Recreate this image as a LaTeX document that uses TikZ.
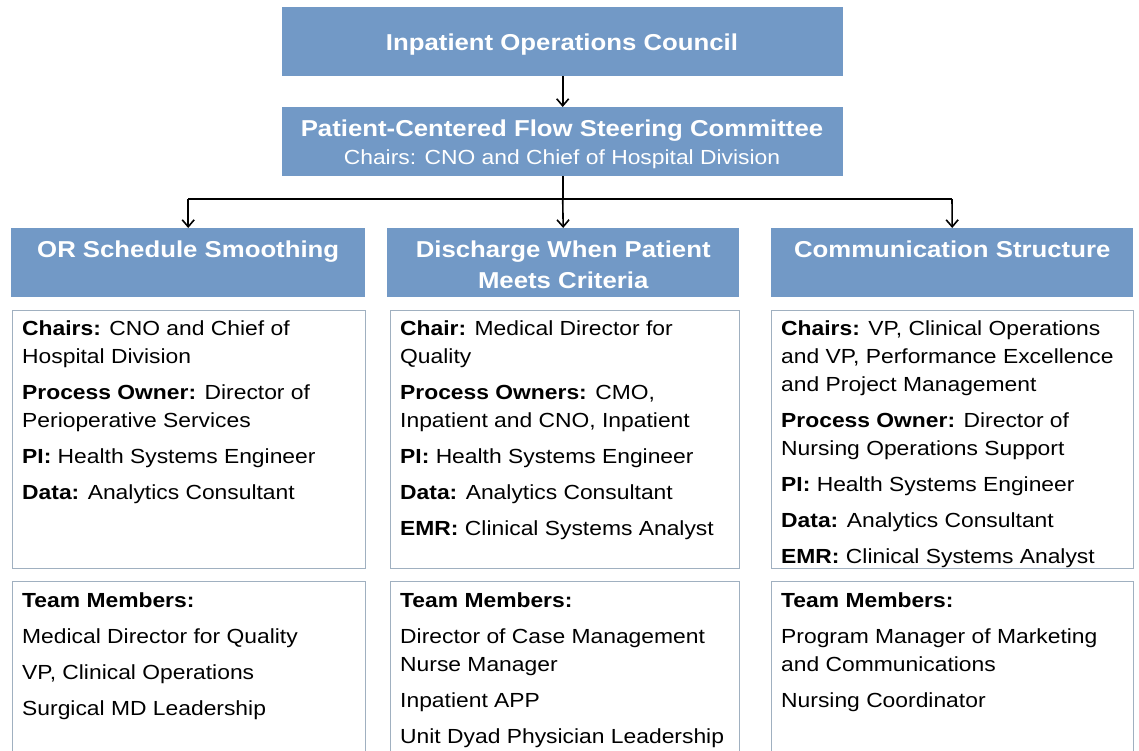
\documentclass[tikz,border=0pt]{standalone}
\usepackage{fontspec}
\setmainfont{Liberation Sans}[FakeStretch=1.12]
\usetikzlibrary{arrows.meta}
\definecolor{boxblue}{RGB}{114,153,198}
\definecolor{boxline}{RGB}{160,176,192}
\tikzset{
  bluebox/.style={fill=boxblue, draw=none, inner sep=0pt, anchor=north west},
  whitebox/.style={fill=white, draw=boxline, line width=1.2pt, inner sep=0pt, anchor=north west},
  hdrtext/.style={text=white, font=\fontsize{23}{31}\selectfont\bfseries, align=center, inner sep=0pt, anchor=north},
  toptext/.style={text=white, font=\fontsize{23}{26}\selectfont\bfseries, inner sep=0pt},
  bodytext/.style={text=black, font=\fontsize{20.4}{28}\selectfont, align=left, inner sep=0pt, anchor=north west},
  arr/.style={line width=1.6pt, -{Straight Barb[length=7pt,width=12pt,line width=1.6pt]}},
  ln/.style={line width=1.6pt}
}
\begin{document}
\begin{tikzpicture}[x=1pt,y=-1pt]
\useasboundingbox[fill=white] (0,0) rectangle (1139,750);
% top boxes
\node[bluebox, minimum width=561pt, minimum height=69pt] (ioc) at (282,7) {};
\node[toptext, anchor=base] (ioct) at (562,50) {Inpatient Operations Council};
\node[bluebox, minimum width=561pt, minimum height=69pt] (pcf) at (282,107) {};
\node[toptext, anchor=base] (pcft) at (562,136) {Patient-Centered Flow Steering Committee};
\node[text=white, font=\fontsize{20.4}{22}\selectfont, inner sep=0pt, anchor=base] (pcfc) at (562,164) {Chairs: CNO and Chief of Hospital Division};
% header boxes
\node[bluebox, minimum width=354pt, minimum height=69pt] (h1) at (11,228) {};
\node[bluebox, minimum width=352pt, minimum height=69pt] (h2) at (387,228) {};
\node[bluebox, minimum width=362pt, minimum height=69pt] (h3) at (771,228) {};
\node[hdrtext] (h1t) at ([yshift=-13pt]h1.north) {OR Schedule Smoothing};
\node[hdrtext] (h2t) at ([yshift=-13pt]h2.north) {Discharge When Patient\\Meets Criteria};
\node[hdrtext] (h3t) at ([yshift=-13pt]h3.north) {Communication Structure};
% connectors
\coordinate (bl) at (188,199);
\coordinate (br) at (952,199);
\draw[arr] (ioc.south) -- (pcf.north);
\draw[ln] (pcf.south) -- (pcf.south |- bl);
\draw[ln] (bl) -- (br);
\draw[arr] (h1.north |- bl) -- (h1.north);
\draw[arr] (pcf.south |- bl) -- (h2.north);
\draw[arr] (br) -- (h3.north);
% white boxes
\node[whitebox, minimum width=353pt, minimum height=258pt] (b1) at (12,310) {};
\node[whitebox, minimum width=349pt, minimum height=258pt] (b2) at (390,310) {};
\node[whitebox, minimum width=362pt, minimum height=258pt] (b3) at (771,310) {};
\node[whitebox, minimum width=353pt, minimum height=190pt] (t1) at (12,581) {};
\node[whitebox, minimum width=349pt, minimum height=190pt] (t2) at (390,581) {};
\node[whitebox, minimum width=362pt, minimum height=190pt] (t3) at (771,581) {};
% body text
\node[bodytext] (b1t) at (22,321) {\textbf{Chairs:} CNO and Chief of\\Hospital Division\\[8pt]
\textbf{Process Owner:} Director of\\Perioperative Services\\[8pt]
\textbf{PI:} Health Systems Engineer\\[8pt]
\textbf{Data:} Analytics Consultant};
\node[bodytext] (b2t) at (400,321) {\textbf{Chair:} Medical Director for\\Quality\\[8pt]
\textbf{Process Owners:} CMO,\\Inpatient and CNO, Inpatient\\[8pt]
\textbf{PI:} Health Systems Engineer\\[8pt]
\textbf{Data:} Analytics Consultant\\[8pt]
\textbf{EMR:} Clinical Systems Analyst};
\node[bodytext] (b3t) at (781,321) {\textbf{Chairs:} VP, Clinical Operations\\and VP, Performance Excellence\\and Project Management\\[8pt]
\textbf{Process Owner:} Director of\\Nursing Operations Support\\[8pt]
\textbf{PI:} Health Systems Engineer\\[8pt]
\textbf{Data:} Analytics Consultant\\[8pt]
\textbf{EMR:} Clinical Systems Analyst};
\node[bodytext] (t1t) at (22,593) {\textbf{Team Members:}\\[8pt]
Medical Director for Quality\\[8pt]
VP, Clinical Operations\\[8pt]
Surgical MD Leadership};
\node[bodytext] (t2t) at (400,593) {\textbf{Team Members:}\\[8pt]
Director of Case Management\\Nurse Manager\\[8pt]
Inpatient APP\\[8pt]
Unit Dyad Physician Leadership};
\node[bodytext] (t3t) at (781,593) {\textbf{Team Members:}\\[8pt]
Program Manager of Marketing\\and Communications\\[8pt]
Nursing Coordinator};
\end{tikzpicture}
\end{document}
